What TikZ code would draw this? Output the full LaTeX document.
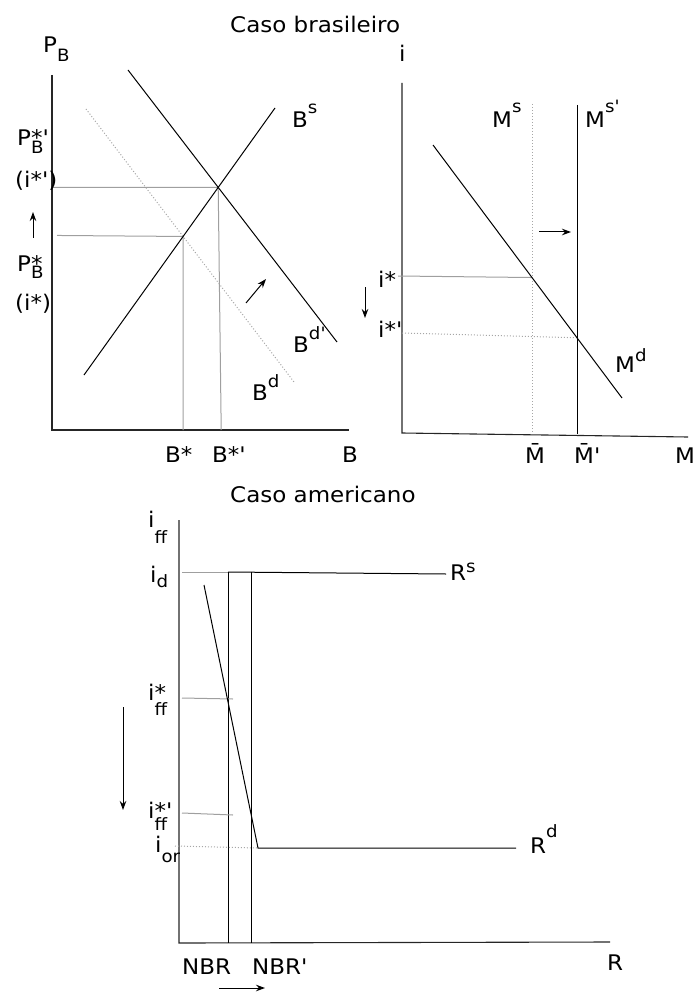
\documentclass[tikz,border=0pt]{standalone}
\usepackage{fontspec}
\setmainfont{DejaVu Sans}[FakeStretch=1.07]
\newfontfamily\apf{DejaVu Sans}[FakeStretch=1.07]
\usetikzlibrary{arrows.meta,calc}
\newcommand\shft[2]{\raisebox{#1}{\fontsize{17}{17}\selectfont #2}}
\newcommand\ap{{\apf'}}
\tikzset{
  lbl/.style={anchor=base west,inner sep=0pt,font=\fontsize{21.5}{24}\selectfont},
  axis/.style={line width=1.1pt,black!85},
  curve/.style={line width=1pt,black},
  guide/.style={line width=1pt,gray!75},
  dguide/.style={line width=1pt,gray!70,dotted},
  arr/.style={line width=1pt,black,-{Stealth[length=9pt,width=6.5pt]}}
}
\begin{document}
\begin{tikzpicture}[x=1pt,y=-1pt]
\useasboundingbox (0,0) rectangle (695,992);
% ---------- top left: bonds ----------
\coordinate (oA) at (52,430);
\coordinate (yA) at (52,75);
\coordinate (xA) at (349,430);
\coordinate (bs1) at (84,375);
\coordinate (bs2) at (275,108);
\coordinate (bdp1) at (128,70);
\coordinate (bdp2) at (337,342);
\coordinate (bd1) at (86,109);
\coordinate (bd2) at (294,382);
\coordinate (E1) at (intersection of bs1--bs2 and bdp1--bdp2);
\coordinate (E2) at (intersection of bs1--bs2 and bd1--bd2);
\coordinate (g2s) at ($(E2 -| oA)+(5,-1)$);
\coordinate (ua1) at (33,238);
\coordinate (ua2) at (33,212);
\coordinate (sa1) at (246,303);
\coordinate (sa2) at (266,279);
\draw[axis] (yA) -- (oA) -- (xA);
\draw[guide] (E1 -| oA) -- (E1) -- ($(E1 |- oA)+(3,0)$);
\draw[guide] (g2s) -- (E2) -- (E2 |- oA);
\draw[dguide] (bd1) -- (bd2);
\draw[curve] (bs1) -- (bs2);
\draw[curve] (bdp1) -- (bdp2);
\draw[arr] (ua1) -- (ua2);
\draw[arr] (sa1) -- (sa2);
\node[lbl] (tA) at (230,33) {Caso brasileiro};
\node[lbl] (PB) at (43,53) {P\shft{-9pt}{B}};
\node[lbl] (PBsp) at (17,146) {P\makebox[0pt][l]{*\ap}\shft{-8pt}{B}};
\node[lbl] (istpA) at (15,188) {(i*\ap)};
\node[lbl] (PBs) at (17,271) {P\makebox[0pt][l]{*}\shft{-7pt}{B}};
\node[lbl] (istA) at (15,310) {(i*)};
\node[lbl] (Bs) at (292,128) {B\shft{14pt}{s}};
\node[lbl] (Bdp) at (293,352) {B\shft{13pt}{d\ap}};
\node[lbl] (Bd) at (252,400) {B\shft{13pt}{d}};
\node[lbl] (Bst) at (165,462) {B*};
\node[lbl] (Bstp) at (212,462) {B*\ap};
\node[lbl] (Bx) at (342,462) {B};
% ---------- top right: money ----------
\coordinate (oB) at (402,433);
\coordinate (yB) at (402,83);
\coordinate (xB) at (688,437);
\coordinate (ms1) at (532,104);
\coordinate (ms2) at (532,433);
\coordinate (msp1) at (577,105);
\coordinate (msp2) at (577,434);
\coordinate (md1) at (433,145);
\coordinate (md2) at (622,398);
\coordinate (F1) at (intersection of md1--md2 and ms1--ms2);
\coordinate (F2) at (intersection of md1--md2 and msp1--msp2);
\coordinate (gF1) at (398,276);
\coordinate (gF2) at (402,333);
\coordinate (ra1) at (539,232);
\coordinate (ra2) at (571,232);
\coordinate (da1) at (365,287);
\coordinate (da2) at (365,318);
\draw[axis] (yB) -- (oB) -- (xB);
\draw[dguide] (ms1) -- (ms2);
\draw[curve] (msp1) -- (msp2);
\draw[guide] (gF1) -- (F1);
\draw[dguide] (gF2) -- (F2);
\draw[curve] (md1) -- (md2);
\draw[arr] (ra1) -- (ra2);
\draw[arr] (da1) -- (da2);
\node[lbl] (iy) at (399,62) {i};
\node[lbl] (Ms) at (492,128) {M\shft{15pt}{s}};
\node[lbl] (Msp) at (585,128) {M\shft{15pt}{s\ap}};
\node[lbl] (Md) at (615,372) {M\shft{11pt}{d}};
\node[lbl] (istB) at (378,287) {i*};
\node[lbl] (istpB) at (378,337) {i*\ap};
\node[lbl] (Mbar) at (525,463) {M̄};
\node[lbl] (Mbarp) at (574,463) {M̄\ap};
\node[lbl] (Mx) at (675,463) {M};
% ---------- bottom: reserves ----------
\coordinate (oC) at (179,943);
\coordinate (yC) at (179,520);
\coordinate (xC) at (610,942);
\coordinate (idg) at (182,572);
\coordinate (nb1) at (228,572);
\coordinate (nb2) at (228,943);
\coordinate (nbp1) at (251,572);
\coordinate (nbp2) at (251,943);
\coordinate (rs2) at (446,574);
\coordinate (rd1) at (204,585);
\coordinate (rd2) at (258,848);
\coordinate (rd3) at (516,848);
\coordinate (g1a) at (182,698);
\coordinate (g1b) at (233,699);
\coordinate (g2a) at (182,813);
\coordinate (g2b) at (233,815);
\coordinate (g3a) at (175,846);
\coordinate (bda1) at (123,707);
\coordinate (bda2) at (123,810);
\coordinate (bra1) at (219,988);
\coordinate (bra2) at (265,988);
\draw[axis] (yC) -- (oC) -- (xC);
\draw[guide] (idg) -- (nb1);
\draw[curve] (nb1) -- (rs2);
\draw[curve] (nb1) -- (nb2);
\draw[curve] (nbp1) -- (nbp2);
\draw[guide] (g1a) -- (g1b);
\draw[guide] (g2a) -- (g2b);
\draw[dguide] (g3a) -- (rd2);
\draw[curve] (rd1) -- (rd2) -- (rd3);
\draw[arr] (bda1) -- (bda2);
\draw[arr] (bra1) -- (bra2);
\node[lbl] (tC) at (230,502) {Caso americano};
\node[lbl] (iff) at (148,527) {i\shft{-16pt}{ff}};
\node[lbl] (id) at (150,582) {i\shft{-5pt}{d}};
\node[lbl] (iffs) at (148,700) {i\makebox[0pt][l]{*}\shft{-15pt}{ff}};
\node[lbl] (iffsp) at (148,818) {i\makebox[0pt][l]{*\ap}\shft{-12pt}{ff}};
\node[lbl] (ior) at (155,852) {i\shft{-10pt}{or}};
\node[lbl] (Rs) at (450,580) {R\shft{8pt}{s}};
\node[lbl] (Rd) at (530,853) {R\shft{16pt}{d}};
\node[lbl] (NBR) at (182,974) {NBR};
\node[lbl] (NBRp) at (252,974) {NBR\ap};
\node[lbl] (Rx) at (607,970) {R};
\end{tikzpicture}
\end{document}
